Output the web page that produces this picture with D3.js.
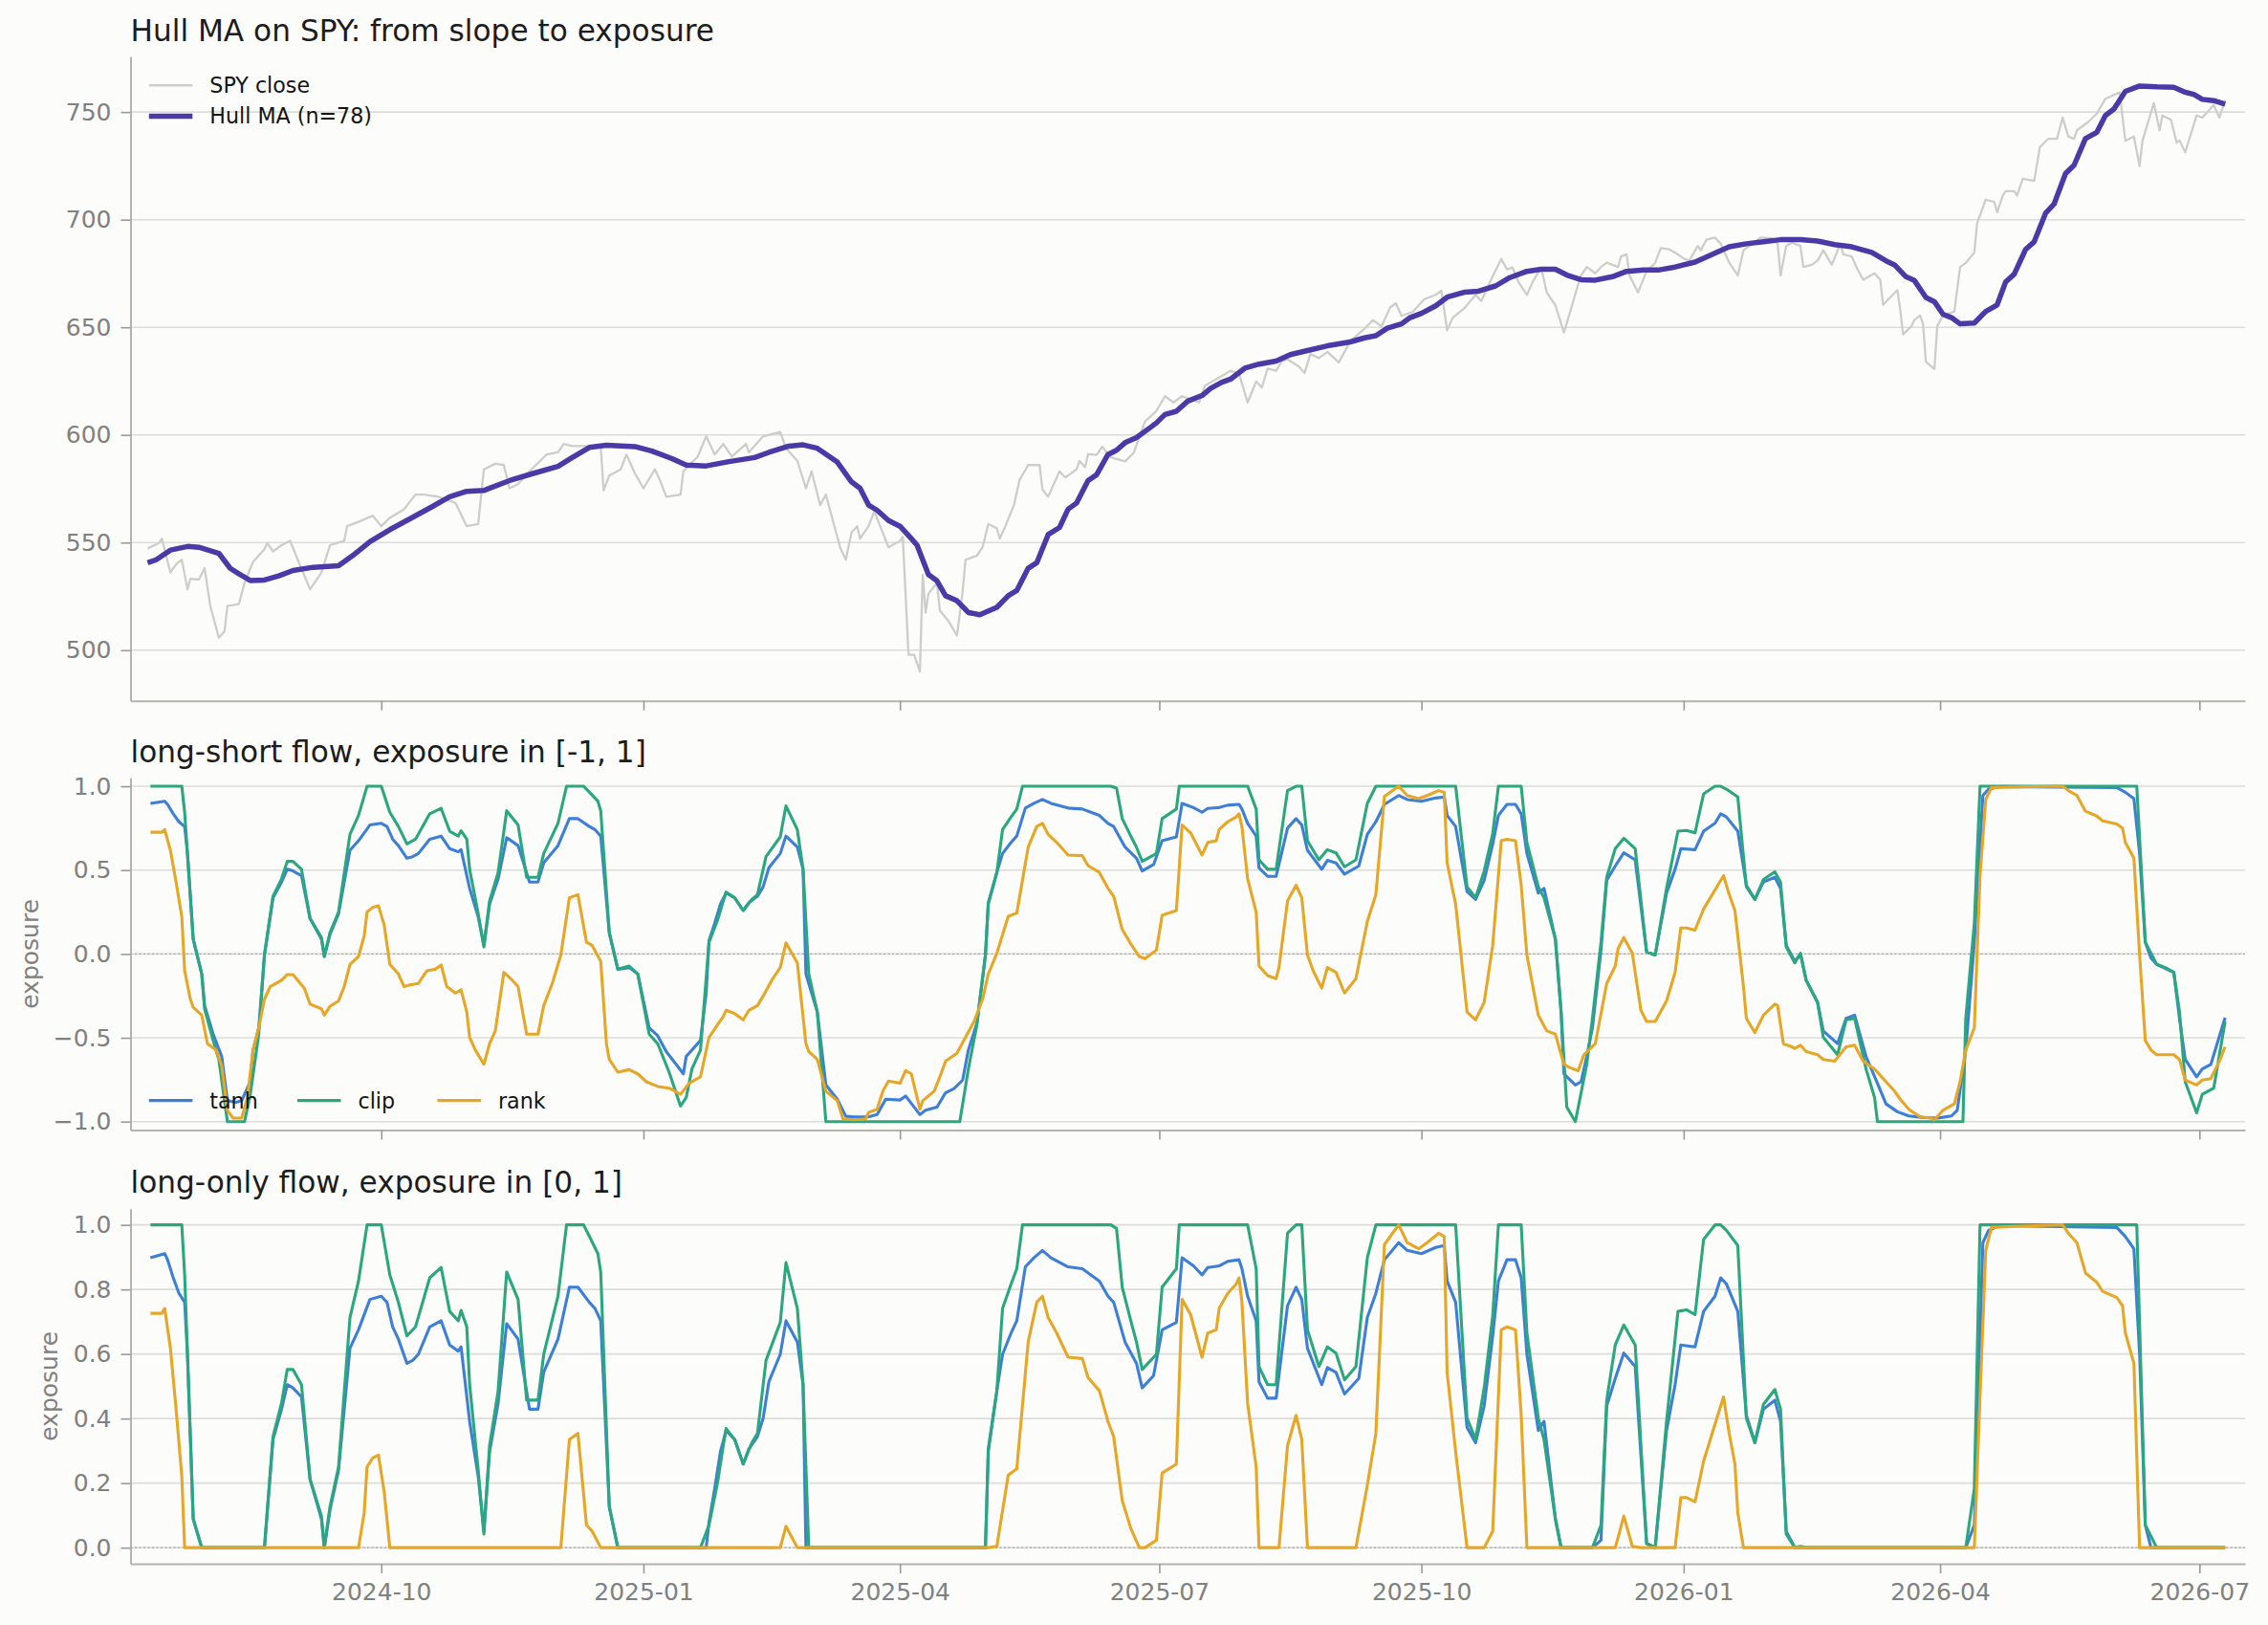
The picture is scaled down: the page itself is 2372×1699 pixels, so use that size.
<!DOCTYPE html>
<html>
<head>
<meta charset="utf-8">
<script src="https://cdn.jsdelivr.net/npm/d3@7"></script>
<style>
  body { margin: 0; background: #fcfcfa; }
  svg text { font-family: "DejaVu Sans", sans-serif; }
</style>
</head>
<body>
<svg id="chart" width="2372" height="1699"></svg>
<script>
// ---- data ----

const dateTicks = ["2024-10-01", "2025-01-01", "2025-04-01", "2025-07-01",
                   "2025-10-01", "2026-01-01", "2026-04-01", "2026-07-01"];
const priceTicks = [500, 550, 600, 650, 700, 750];
const longShortTicks = [-1, -0.5, 0, 0.5, 1];
const longOnlyTicks = [0, 0.2, 0.4, 0.6, 0.8, 1];

const spyClose = [
  ["2024-07-11",547.3],["2024-07-15",549.8],["2024-07-16",551.8],["2024-07-19",536.1],["2024-07-21",540.0],
  ["2024-07-23",542.0],["2024-07-25",528.3],["2024-07-26",533.2],["2024-07-29",532.8],["2024-07-31",538.1],
  ["2024-08-02",520.5],["2024-08-05",505.8],["2024-08-07",508.8],["2024-08-08",520.5],["2024-08-12",521.4],
  ["2024-08-14",531.2],["2024-08-17",541.0],["2024-08-21",546.9],["2024-08-22",549.8],["2024-08-24",545.9],
  ["2024-08-27",548.8],["2024-08-30",550.8],["2024-09-02",541.0],["2024-09-06",528.3],["2024-09-10",536.1],
  ["2024-09-13",548.8],["2024-09-18",550.8],["2024-09-19",557.6],["2024-09-23",559.6],["2024-09-28",562.5],
  ["2024-10-01",557.6],["2024-10-04",561.5],["2024-10-09",565.5],["2024-10-13",572.3],["2024-10-16",572.3],
  ["2024-10-21",571.3],["2024-10-27",568.4],["2024-10-31",557.6],["2024-11-04",558.6],["2024-11-06",584.0],
  ["2024-11-10",586.6],["2024-11-13",586.0],["2024-11-15",575.2],["2024-11-18",577.2],["2024-11-22",583.1],
  ["2024-11-25",587.0],["2024-11-28",590.9],["2024-12-02",591.9],["2024-12-04",595.8],["2024-12-07",594.8],
  ["2024-12-12",594.8],["2024-12-17",594.8],["2024-12-18",574.3],["2024-12-20",581.1],["2024-12-24",584.0],
  ["2024-12-26",590.9],["2024-12-29",582.1],["2025-01-01",575.2],["2025-01-05",584.0],["2025-01-07",578.2],
  ["2025-01-09",571.3],["2025-01-14",572.3],["2025-01-15",583.1],["2025-01-20",589.9],["2025-01-23",599.4],
  ["2025-01-26",590.9],["2025-01-29",595.8],["2025-02-01",589.9],["2025-02-06",595.8],["2025-02-07",591.9],
  ["2025-02-12",599.4],["2025-02-18",601.4],["2025-02-20",593.8],["2025-02-24",588.0],["2025-02-27",575.2],
  ["2025-03-01",583.1],["2025-03-04",567.4],["2025-03-06",572.3],["2025-03-10",552.7],["2025-03-11",547.8],
  ["2025-03-13",542.0],["2025-03-15",554.7],["2025-03-17",557.6],["2025-03-18",551.8],["2025-03-21",557.6],
  ["2025-03-23",564.5],["2025-03-28",547.8],["2025-04-01",550.8],["2025-04-02",552.7],["2025-04-04",497.9],
  ["2025-04-06",497.9],["2025-04-08",490.1],["2025-04-09",535.1],["2025-04-10",517.5],["2025-04-11",526.3],
  ["2025-04-14",531.2],["2025-04-15",518.5],["2025-04-18",513.6],["2025-04-21",506.8],["2025-04-23",527.3],
  ["2025-04-24",542.0],["2025-04-28",543.9],["2025-04-30",547.8],["2025-05-02",558.6],["2025-05-05",556.7],
  ["2025-05-06",551.8],["2025-05-08",557.6],["2025-05-11",567.4],["2025-05-13",579.2],["2025-05-16",586.0],
  ["2025-05-20",586.0],["2025-05-21",574.7],["2025-05-23",571.3],["2025-05-27",583.1],["2025-05-29",580.2],
  ["2025-06-02",584.0],["2025-06-03",587.9],["2025-06-05",585.0],["2025-06-06",591.1],["2025-06-09",590.7],
  ["2025-06-11",594.5],["2025-06-14",589.6],["2025-06-19",587.7],["2025-06-22",591.6],["2025-06-26",606.3],
  ["2025-06-30",611.2],["2025-07-03",618.0],["2025-07-06",615.1],["2025-07-09",618.0],["2025-07-15",615.1],
  ["2025-07-17",622.9],["2025-07-21",625.9],["2025-07-26",629.8],["2025-07-29",628.4],["2025-08-01",615.1],
  ["2025-08-04",624.9],["2025-08-06",622.0],["2025-08-08",630.8],["2025-08-11",629.8],["2025-08-13",634.3],
  ["2025-08-15",635.1],["2025-08-19",631.8],["2025-08-21",628.8],["2025-08-23",637.6],["2025-08-26",635.7],
  ["2025-08-29",638.6],["2025-09-02",633.7],["2025-09-06",643.5],["2025-09-11",649.4],["2025-09-14",653.3],
  ["2025-09-17",650.4],["2025-09-20",659.2],["2025-09-22",661.2],["2025-09-24",655.3],["2025-09-28",657.2],
  ["2025-10-02",663.1],["2025-10-06",665.1],["2025-10-08",667.0],["2025-10-10",648.6],["2025-10-12",654.5],
  ["2025-10-16",658.8],["2025-10-20",665.1],["2025-10-22",662.2],["2025-10-25",671.0],["2025-10-29",681.8],
  ["2025-10-31",676.9],["2025-11-02",677.8],["2025-11-04",671.0],["2025-11-07",665.1],["2025-11-09",671.0],
  ["2025-11-12",677.8],["2025-11-14",666.1],["2025-11-17",660.2],["2025-11-20",647.6],["2025-11-22",656.4],
  ["2025-11-25",670.1],["2025-11-26",674.1],["2025-11-28",678.0],["2025-12-01",675.1],["2025-12-03",678.0],
  ["2025-12-05",680.0],["2025-12-09",678.0],["2025-12-10",682.9],["2025-12-12",683.9],["2025-12-13",674.1],
  ["2025-12-16",666.2],["2025-12-19",676.0],["2025-12-22",680.0],["2025-12-24",686.8],["2025-12-27",686.2],
  ["2025-12-30",683.9],["2026-01-01",681.9],["2026-01-03",681.0],["2026-01-06",687.8],["2026-01-07",685.8],
  ["2026-01-09",690.7],["2026-01-12",691.7],["2026-01-14",688.8],["2026-01-17",680.0],["2026-01-20",674.1],
  ["2026-01-22",685.8],["2026-01-26",689.7],["2026-01-28",691.7],["2026-02-01",691.3],["2026-02-03",688.8],
  ["2026-02-04",674.1],["2026-02-06",687.8],["2026-02-08",689.3],["2026-02-11",687.8],["2026-02-12",678.0],
  ["2026-02-15",679.0],["2026-02-17",681.0],["2026-02-19",685.8],["2026-02-22",679.0],["2026-02-25",688.8],
  ["2026-02-26",683.9],["2026-03-01",682.9],["2026-03-03",677.0],["2026-03-05",672.1],["2026-03-09",675.1],
  ["2026-03-11",672.1],["2026-03-12",660.4],["2026-03-14",663.3],["2026-03-17",667.2],["2026-03-18",658.4],
  ["2026-03-19",646.7],["2026-03-22",650.6],["2026-03-23",653.5],["2026-03-25",655.5],["2026-03-26",651.6],
  ["2026-03-27",634.0],["2026-03-30",630.6],["2026-03-31",650.6],["2026-04-02",655.5],["2026-04-06",657.4],
  ["2026-04-08",678.0],["2026-04-10",679.9],["2026-04-13",684.8],["2026-04-14",698.5],["2026-04-17",709.3],
  ["2026-04-20",708.3],["2026-04-21",703.4],["2026-04-23",711.2],["2026-04-24",713.2],["2026-04-27",713.2],
  ["2026-04-28",711.2],["2026-04-30",719.0],["2026-05-04",718.0],["2026-05-06",733.7],["2026-05-09",737.6],
  ["2026-05-12",737.6],["2026-05-14",747.4],["2026-05-16",738.6],["2026-05-18",737.6],["2026-05-19",741.5],
  ["2026-05-23",745.4],["2026-05-26",749.3],["2026-05-29",756.2],["2026-06-03",759.1],["2026-06-05",736.6],
  ["2026-06-08",738.6],["2026-06-10",724.9],["2026-06-11",736.6],["2026-06-15",754.2],["2026-06-17",741.5],
  ["2026-06-18",748.4],["2026-06-21",746.4],["2026-06-23",735.8],["2026-06-24",736.8],["2026-06-26",731.3],
  ["2026-06-30",748.4],["2026-07-02",747.4],["2026-07-06",753.3],["2026-07-08",747.4],["2026-07-10",755.3]
];

const hullMA = [
  ["2024-07-11",540.6],["2024-07-14",542.0],["2024-07-19",546.5],["2024-07-25",548.2],["2024-07-29",547.8],
  ["2024-08-05",545.0],["2024-08-09",538.0],["2024-08-12",535.5],["2024-08-16",532.4],["2024-08-21",532.6],
  ["2024-08-26",534.5],["2024-08-31",537.0],["2024-09-07",538.5],["2024-09-16",539.2],["2024-09-21",544.0],
  ["2024-09-27",550.4],["2024-10-04",556.0],["2024-10-11",561.0],["2024-10-19",566.8],["2024-10-25",571.3],
  ["2024-10-31",573.8],["2024-11-06",574.2],["2024-11-15",578.8],["2024-11-23",582.0],["2024-12-02",585.4],
  ["2024-12-07",589.5],["2024-12-13",594.2],["2024-12-19",595.2],["2024-12-29",594.6],["2025-01-04",592.5],
  ["2025-01-11",589.0],["2025-01-16",586.0],["2025-01-23",585.6],["2025-01-31",587.6],["2025-02-09",589.5],
  ["2025-02-14",591.9],["2025-02-21",594.8],["2025-02-26",595.4],["2025-03-03",593.8],["2025-03-10",587.4],
  ["2025-03-15",578.2],["2025-03-18",575.2],["2025-03-21",567.4],["2025-03-24",565.0],["2025-03-28",560.2],
  ["2025-04-01",557.6],["2025-04-05",551.8],["2025-04-07",548.8],["2025-04-11",535.1],["2025-04-14",532.2],
  ["2025-04-17",525.3],["2025-04-21",523.0],["2025-04-25",517.5],["2025-04-29",516.5],["2025-05-05",519.9],
  ["2025-05-09",525.3],["2025-05-12",527.7],["2025-05-16",538.1],["2025-05-19",540.6],["2025-05-23",553.7],
  ["2025-05-27",557.0],["2025-05-30",565.5],["2025-06-02",568.4],["2025-06-06",578.8],["2025-06-09",581.5],
  ["2025-06-13",590.9],["2025-06-16",592.9],["2025-06-19",596.4],["2025-06-23",598.8],["2025-06-28",603.6],
  ["2025-06-30",605.6],["2025-07-03",609.5],["2025-07-07",611.0],["2025-07-11",615.7],["2025-07-16",618.3],
  ["2025-07-19",621.6],["2025-07-23",624.5],["2025-07-26",625.9],["2025-07-31",631.0],["2025-08-05",632.9],
  ["2025-08-11",634.3],["2025-08-16",637.3],["2025-08-22",639.2],["2025-08-29",641.4],["2025-09-06",643.2],
  ["2025-09-11",645.1],["2025-09-15",646.1],["2025-09-19",649.6],["2025-09-24",651.6],["2025-09-27",654.5],
  ["2025-10-01",656.5],["2025-10-06",660.0],["2025-10-10",664.0],["2025-10-16",666.3],["2025-10-21",666.8],
  ["2025-10-27",669.2],["2025-11-01",673.1],["2025-11-07",676.0],["2025-11-12",677.0],["2025-11-17",677.0],
  ["2025-11-21",674.3],["2025-11-26",672.1],["2025-12-01",671.9],["2025-12-07",673.5],["2025-12-12",676.0],
  ["2025-12-18",676.6],["2025-12-23",676.6],["2025-12-29",678.0],["2026-01-05",680.3],["2026-01-11",683.9],
  ["2026-01-17",687.4],["2026-01-23",688.8],["2026-01-29",689.7],["2026-02-04",690.7],["2026-02-11",690.7],
  ["2026-02-17",690.1],["2026-02-23",688.4],["2026-03-01",687.4],["2026-03-08",684.8],["2026-03-13",680.9],
  ["2026-03-16",679.0],["2026-03-20",673.5],["2026-03-23",671.7],["2026-03-27",663.9],["2026-03-30",661.9],
  ["2026-04-02",656.1],["2026-04-05",654.5],["2026-04-08",651.6],["2026-04-13",652.0],["2026-04-17",657.4],
  ["2026-04-21",660.4],["2026-04-24",671.1],["2026-04-27",674.7],["2026-05-01",686.2],["2026-05-04",689.7],
  ["2026-05-08",703.0],["2026-05-11",707.3],["2026-05-15",721.4],["2026-05-18",725.3],["2026-05-22",737.7],
  ["2026-05-26",740.6],["2026-05-29",748.4],["2026-06-01",751.4],["2026-06-05",759.6],["2026-06-10",762.1],
  ["2026-06-16",761.7],["2026-06-22",761.5],["2026-06-26",759.2],["2026-06-29",758.2],["2026-07-02",755.9],
  ["2026-07-06",755.3],["2026-07-10",753.7]
];

// long-short exposures; the long-only panel is the same series floored at 0
const tanhExposure = [
  ["2024-07-12",0.898],["2024-07-17",0.911],["2024-07-18",0.892],["2024-07-20",0.836],["2024-07-22",0.788],
  ["2024-07-24",0.760],["2024-07-25",0.599],["2024-07-27",0.089],["2024-07-30",-0.119],["2024-07-31",-0.308],
  ["2024-08-03",-0.478],["2024-08-06",-0.611],["2024-08-08",-0.875],["2024-08-11",-0.885],["2024-08-13",-0.875],
  ["2024-08-16",-0.762],["2024-08-17",-0.573],["2024-08-19",-0.440],["2024-08-21",-0.006],["2024-08-24",0.335],
  ["2024-08-27",0.429],["2024-08-29",0.505],["2024-08-31",0.495],["2024-09-03",0.467],["2024-09-06",0.212],
  ["2024-09-10",0.089],["2024-09-11",-0.015],["2024-09-13",0.117],["2024-09-16",0.240],["2024-09-20",0.618],
  ["2024-09-23",0.675],["2024-09-27",0.769],["2024-10-01",0.779],["2024-10-03",0.760],["2024-10-05",0.684],
  ["2024-10-07",0.646],["2024-10-10",0.571],["2024-10-12",0.580],["2024-10-14",0.599],["2024-10-18",0.684],
  ["2024-10-22",0.703],["2024-10-25",0.628],["2024-10-28",0.609],["2024-10-29",0.622],["2024-11-01",0.391],
  ["2024-11-04",0.221],["2024-11-06",0.051],["2024-11-08",0.297],["2024-11-11",0.448],["2024-11-14",0.694],
  ["2024-11-18",0.646],["2024-11-22",0.429],["2024-11-25",0.429],["2024-11-27",0.544],["2024-12-02",0.646],
  ["2024-12-06",0.807],["2024-12-09",0.807],["2024-12-13",0.760],["2024-12-15",0.741],["2024-12-17",0.703],
  ["2024-12-20",0.127],["2024-12-23",-0.091],["2024-12-27",-0.081],["2024-12-30",-0.119],["2025-01-03",-0.440],
  ["2025-01-06",-0.488],["2025-01-09",-0.582],["2025-01-12",-0.648],["2025-01-15",-0.715],["2025-01-16",-0.611],
  ["2025-01-21",-0.516],["2025-01-23",-0.233],["2025-01-24",0.079],["2025-01-26",0.183],["2025-01-28",0.297],
  ["2025-01-30",0.363],["2025-02-02",0.335],["2025-02-05",0.259],["2025-02-07",0.306],["2025-02-10",0.344],
  ["2025-02-12",0.401],["2025-02-14",0.514],["2025-02-18",0.599],["2025-02-20",0.703],["2025-02-24",0.637],
  ["2025-02-26",0.505],["2025-02-27",-0.119],["2025-03-03",-0.346],["2025-03-06",-0.781],["2025-03-10",-0.866],
  ["2025-03-13",-0.968],["2025-03-16",-0.972],["2025-03-21",-0.972],["2025-03-24",-0.958],["2025-03-27",-0.866],
  ["2025-04-01",-0.871],["2025-04-03",-0.847],["2025-04-08",-0.958],["2025-04-10",-0.932],["2025-04-14",-0.913],
  ["2025-04-17",-0.828],["2025-04-20",-0.803],["2025-04-23",-0.752],["2025-04-25",-0.573],["2025-04-28",-0.412],
  ["2025-05-01",-0.006],["2025-05-02",0.306],["2025-05-05",0.486],["2025-05-07",0.599],["2025-05-10",0.665],
  ["2025-05-12",0.703],["2025-05-15",0.870],["2025-05-18",0.898],["2025-05-21",0.921],["2025-05-24",0.898],
  ["2025-05-30",0.870],["2025-06-04",0.864],["2025-06-07",0.845],["2025-06-10",0.826],["2025-06-13",0.779],
  ["2025-06-15",0.760],["2025-06-19",0.637],["2025-06-23",0.571],["2025-06-25",0.495],["2025-06-29",0.533],
  ["2025-07-02",0.675],["2025-07-07",0.698],["2025-07-09",0.898],["2025-07-13",0.873],["2025-07-16",0.845],
  ["2025-07-18",0.868],["2025-07-22",0.873],["2025-07-25",0.887],["2025-07-29",0.892],["2025-07-30",0.864],
  ["2025-08-01",0.779],["2025-08-04",0.703],["2025-08-05",0.514],["2025-08-08",0.463],["2025-08-11",0.463],
  ["2025-08-15",0.750],["2025-08-18",0.807],["2025-08-20",0.769],["2025-08-22",0.618],["2025-08-27",0.505],
  ["2025-08-29",0.558],["2025-09-01",0.543],["2025-09-04",0.476],["2025-09-09",0.524],["2025-09-12",0.713],
  ["2025-09-15",0.788],["2025-09-18",0.892],["2025-09-23",0.945],["2025-09-26",0.921],["2025-10-01",0.911],
  ["2025-10-06",0.930],["2025-10-09",0.936],["2025-10-10",0.826],["2025-10-13",0.760],["2025-10-17",0.372],
  ["2025-10-20",0.325],["2025-10-23",0.439],["2025-10-26",0.656],["2025-10-28",0.826],["2025-10-31",0.892],
  ["2025-11-03",0.892],["2025-11-05",0.836],["2025-11-07",0.599],["2025-11-11",0.363],["2025-11-13",0.391],
  ["2025-11-17",0.089],["2025-11-19",-0.346],["2025-11-20",-0.715],["2025-11-24",-0.781],["2025-11-26",-0.762],
  ["2025-11-28",-0.611],["2025-11-30",-0.440],["2025-12-03",0.023],["2025-12-05",0.439],["2025-12-08",0.524],
  ["2025-12-11",0.603],["2025-12-15",0.561],["2025-12-19",0.013],["2025-12-22",-0.006],["2025-12-26",0.363],
  ["2025-12-29",0.505],["2025-12-31",0.628],["2026-01-05",0.622],["2026-01-08",0.732],["2026-01-12",0.779],
  ["2026-01-14",0.836],["2026-01-16",0.817],["2026-01-20",0.732],["2026-01-23",0.410],["2026-01-26",0.325],
  ["2026-01-29",0.429],["2026-02-02",0.457],["2026-02-04",0.391],["2026-02-06",0.051],["2026-02-09",-0.043],
  ["2026-02-11",-0.002],["2026-02-13",-0.157],["2026-02-17",-0.289],["2026-02-19",-0.459],["2026-02-24",-0.535],
  ["2026-02-27",-0.384],["2026-03-02",-0.365],["2026-03-06",-0.611],["2026-03-10",-0.771],["2026-03-13",-0.894],
  ["2026-03-17",-0.941],["2026-03-21",-0.966],["2026-03-26",-0.975],["2026-03-31",-0.979],["2026-04-05",-0.966],
  ["2026-04-07",-0.932],["2026-04-10",-0.573],["2026-04-13",0.070],["2026-04-16",0.945],["2026-04-18",0.983],
  ["2026-04-22",0.998],["2026-06-02",0.992],["2026-06-05",0.964],["2026-06-08",0.926],["2026-06-10",0.599],
  ["2026-06-12",0.070],["2026-06-14",-0.025],["2026-06-16",-0.062],["2026-06-22",-0.110],["2026-06-24",-0.384],
  ["2026-06-26",-0.629],["2026-06-30",-0.733],["2026-07-02",-0.686],["2026-07-05",-0.658],["2026-07-10",-0.380]
];

const clipExposure = [
  ["2024-07-12",1.0],["2024-07-23",1.0],["2024-07-24",0.845],["2024-07-27",0.089],["2024-07-30",-0.119],
  ["2024-07-31",-0.327],["2024-08-03",-0.516],["2024-08-05",-0.629],["2024-08-08",-1.0],["2024-08-14",-1.0],
  ["2024-08-16",-0.841],["2024-08-19",-0.478],["2024-08-21",-0.006],["2024-08-24",0.344],["2024-08-27",0.448],
  ["2024-08-29",0.552],["2024-08-31",0.552],["2024-09-03",0.505],["2024-09-06",0.212],["2024-09-10",0.098],
  ["2024-09-11",-0.015],["2024-09-13",0.127],["2024-09-16",0.250],["2024-09-20",0.713],["2024-09-23",0.826],
  ["2024-09-26",1.0],["2024-10-01",1.0],["2024-10-04",0.845],["2024-10-07",0.760],["2024-10-10",0.656],
  ["2024-10-13",0.684],["2024-10-18",0.836],["2024-10-22",0.868],["2024-10-25",0.732],["2024-10-28",0.703],
  ["2024-10-29",0.735],["2024-10-31",0.684],["2024-11-01",0.505],["2024-11-04",0.240],["2024-11-06",0.042],
  ["2024-11-08",0.316],["2024-11-11",0.486],["2024-11-14",0.854],["2024-11-18",0.769],["2024-11-21",0.457],
  ["2024-11-25",0.457],["2024-11-27",0.599],["2024-12-02",0.779],["2024-12-05",1.0],["2024-12-11",1.0],
  ["2024-12-13",0.965],["2024-12-16",0.911],["2024-12-17",0.854],["2024-12-20",0.127],["2024-12-23",-0.091],
  ["2024-12-27",-0.072],["2024-12-30",-0.119],["2025-01-03",-0.478],["2025-01-06",-0.535],["2025-01-10",-0.705],
  ["2025-01-14",-0.907],["2025-01-16",-0.856],["2025-01-18",-0.686],["2025-01-21",-0.573],["2025-01-24",0.070],
  ["2025-01-27",0.202],["2025-01-29",0.316],["2025-01-30",0.369],["2025-02-02",0.335],["2025-02-05",0.259],
  ["2025-02-08",0.325],["2025-02-10",0.354],["2025-02-13",0.580],["2025-02-18",0.698],["2025-02-20",0.883],
  ["2025-02-24",0.741],["2025-02-26",0.505],["2025-02-28",-0.119],["2025-03-03",-0.346],["2025-03-06",-1.0],
  ["2025-04-22",-1.0],["2025-04-25",-0.686],["2025-04-28",-0.422],["2025-05-01",-0.006],["2025-05-02",0.297],
  ["2025-05-05",0.486],["2025-05-07",0.741],["2025-05-10",0.817],["2025-05-12",0.864],["2025-05-14",1.0],
  ["2025-06-14",1.0],["2025-06-16",0.989],["2025-06-18",0.807],["2025-06-21",0.703],["2025-06-23",0.637],
  ["2025-06-25",0.552],["2025-06-30",0.599],["2025-07-02",0.807],["2025-07-07",0.864],["2025-07-08",1.0],
  ["2025-08-01",1.0],["2025-08-04",0.864],["2025-08-05",0.561],["2025-08-08",0.505],["2025-08-11",0.505],
  ["2025-08-15",0.974],["2025-08-18",1.0],["2025-08-20",1.0],["2025-08-22",0.675],["2025-08-26",0.561],
  ["2025-08-29",0.622],["2025-09-01",0.603],["2025-09-04",0.520],["2025-09-08",0.561],["2025-09-12",0.898],
  ["2025-09-15",1.0],["2025-10-13",1.0],["2025-10-17",0.401],["2025-10-20",0.335],["2025-10-23",0.495],
  ["2025-10-26",0.718],["2025-10-28",1.0],["2025-11-05",1.0],["2025-11-07",0.665],["2025-11-11",0.401],
  ["2025-11-13",0.335],["2025-11-17",0.089],["2025-11-19",-0.346],["2025-11-21",-0.913],["2025-11-24",-1.0],
  ["2025-11-28",-0.658],["2025-11-30",-0.384],["2025-12-03",0.070],["2025-12-05",0.457],["2025-12-08",0.628],
  ["2025-12-11",0.690],["2025-12-15",0.628],["2025-12-19",0.013],["2025-12-22",-0.006],["2025-12-26",0.391],
  ["2025-12-30",0.732],["2026-01-02",0.737],["2026-01-05",0.722],["2026-01-08",0.955],["2026-01-12",1.0],
  ["2026-01-14",1.0],["2026-01-16",0.983],["2026-01-20",0.936],["2026-01-23",0.401],["2026-01-26",0.325],
  ["2026-01-29",0.444],["2026-02-02",0.490],["2026-02-04",0.429],["2026-02-06",0.042],["2026-02-09",-0.053],
  ["2026-02-11",0.004],["2026-02-13",-0.157],["2026-02-17",-0.289],["2026-02-19",-0.497],["2026-02-24",-0.601],
  ["2026-02-27",-0.393],["2026-03-02",-0.384],["2026-03-06",-0.686],["2026-03-09",-0.856],["2026-03-10",-1.0],
  ["2026-04-09",-1.0],["2026-04-10",-0.384],["2026-04-13",0.183],["2026-04-15",1.0],["2026-06-09",1.0],
  ["2026-06-12",0.070],["2026-06-16",-0.062],["2026-06-19",-0.081],["2026-06-22",-0.110],["2026-06-24",-0.346],
  ["2026-06-26",-0.762],["2026-06-30",-0.947],["2026-07-02",-0.837],["2026-07-06",-0.800],["2026-07-10",-0.403]
];

const rankExposure = [
  ["2024-07-12",0.726],["2024-07-16",0.726],["2024-07-17",0.741],["2024-07-19",0.618],["2024-07-21",0.429],
  ["2024-07-23",0.221],["2024-07-24",-0.100],["2024-07-26",-0.270],["2024-07-27",-0.318],["2024-07-30",-0.365],
  ["2024-08-01",-0.535],["2024-08-04",-0.573],["2024-08-06",-0.667],["2024-08-08",-0.932],["2024-08-10",-0.979],
  ["2024-08-13",-0.979],["2024-08-15",-0.856],["2024-08-17",-0.573],["2024-08-19",-0.440],["2024-08-21",-0.270],
  ["2024-08-23",-0.195],["2024-08-27",-0.157],["2024-08-29",-0.123],["2024-08-31",-0.123],["2024-09-04",-0.204],
  ["2024-09-06",-0.299],["2024-09-10",-0.327],["2024-09-11",-0.365],["2024-09-13",-0.312],["2024-09-16",-0.280],
  ["2024-09-18",-0.195],["2024-09-20",-0.062],["2024-09-23",-0.015],["2024-09-25",0.108],["2024-09-26",0.250],
  ["2024-09-28",0.278],["2024-09-30",0.287],["2024-10-02",0.174],["2024-10-04",-0.062],["2024-10-07",-0.119],
  ["2024-10-09",-0.195],["2024-10-11",-0.185],["2024-10-14",-0.176],["2024-10-17",-0.100],["2024-10-20",-0.091],
  ["2024-10-22",-0.066],["2024-10-24",-0.195],["2024-10-27",-0.233],["2024-10-29",-0.214],["2024-10-31",-0.346],
  ["2024-11-01",-0.497],["2024-11-03",-0.573],["2024-11-06",-0.658],["2024-11-08",-0.535],["2024-11-10",-0.459],
  ["2024-11-13",-0.110],["2024-11-16",-0.157],["2024-11-18",-0.195],["2024-11-21",-0.478],["2024-11-25",-0.478],
  ["2024-11-27",-0.308],["2024-11-30",-0.176],["2024-12-03",-0.006],["2024-12-06",0.335],["2024-12-09",0.354],
  ["2024-12-12",0.070],["2024-12-14",0.051],["2024-12-17",-0.043],["2024-12-19",-0.535],["2024-12-20",-0.629],
  ["2024-12-23",-0.705],["2024-12-27",-0.690],["2024-12-30",-0.715],["2025-01-02",-0.762],["2025-01-06",-0.790],
  ["2025-01-10",-0.800],["2025-01-14",-0.837],["2025-01-17",-0.771],["2025-01-21",-0.733],["2025-01-24",-0.497],
  ["2025-01-27",-0.422],["2025-01-29",-0.374],["2025-01-30",-0.336],["2025-02-02",-0.355],["2025-02-05",-0.393],
  ["2025-02-07",-0.336],["2025-02-10",-0.308],["2025-02-12",-0.251],["2025-02-15",-0.157],["2025-02-18",-0.081],
  ["2025-02-20",0.066],["2025-02-24",-0.053],["2025-02-27",-0.535],["2025-02-28",-0.582],["2025-03-03",-0.629],
  ["2025-03-06",-0.818],["2025-03-10",-0.875],["2025-03-12",-0.983],["2025-03-16",-0.989],["2025-03-20",-0.983],
  ["2025-03-21",-0.945],["2025-03-24",-0.926],["2025-03-26",-0.818],["2025-03-28",-0.758],["2025-04-01",-0.771],
  ["2025-04-03",-0.696],["2025-04-05",-0.715],["2025-04-08",-0.926],["2025-04-09",-0.875],["2025-04-13",-0.818],
  ["2025-04-15",-0.733],["2025-04-17",-0.639],["2025-04-21",-0.592],["2025-04-24",-0.497],["2025-04-27",-0.403],
  ["2025-04-30",-0.270],["2025-05-02",-0.119],["2025-05-05",0.004],["2025-05-09",0.225],["2025-05-12",0.244],
  ["2025-05-16",0.637],["2025-05-19",0.760],["2025-05-21",0.779],["2025-05-23",0.713],["2025-05-26",0.665],
  ["2025-05-30",0.590],["2025-06-04",0.586],["2025-06-06",0.527],["2025-06-10",0.486],["2025-06-13",0.391],
  ["2025-06-15",0.344],["2025-06-18",0.146],["2025-06-21",0.060],["2025-06-24",-0.015],["2025-06-26",-0.028],
  ["2025-06-30",0.023],["2025-07-02",0.231],["2025-07-07",0.259],["2025-07-09",0.769],["2025-07-12",0.722],
  ["2025-07-14",0.656],["2025-07-16",0.590],["2025-07-18",0.665],["2025-07-21",0.675],["2025-07-22",0.741],
  ["2025-07-25",0.788],["2025-07-28",0.817],["2025-07-29",0.836],["2025-07-30",0.760],["2025-08-01",0.448],
  ["2025-08-04",0.250],["2025-08-05",-0.072],["2025-08-08",-0.129],["2025-08-11",-0.147],["2025-08-12",-0.081],
  ["2025-08-15",0.316],["2025-08-18",0.410],["2025-08-20",0.335],["2025-08-22",-0.006],["2025-08-24",-0.100],
  ["2025-08-27",-0.204],["2025-08-29",-0.081],["2025-09-01",-0.110],["2025-09-04",-0.233],["2025-09-08",-0.147],
  ["2025-09-12",0.193],["2025-09-15",0.354],["2025-09-18",0.939],["2025-09-23",1.0],["2025-09-26",0.945],
  ["2025-09-30",0.926],["2025-10-03",0.945],["2025-10-07",0.974],["2025-10-09",0.964],["2025-10-10",0.544],
  ["2025-10-13",0.297],["2025-10-17",-0.346],["2025-10-20",-0.393],["2025-10-23",-0.289],["2025-10-26",0.051],
  ["2025-10-29",0.675],["2025-10-31",0.684],["2025-11-03",0.675],["2025-11-05",0.410],["2025-11-07",-0.006],
  ["2025-11-11",-0.365],["2025-11-14",-0.459],["2025-11-17",-0.478],["2025-11-20",-0.658],["2025-11-22",-0.677],
  ["2025-11-25",-0.696],["2025-11-27",-0.601],["2025-12-01",-0.535],["2025-12-05",-0.176],["2025-12-08",-0.072],
  ["2025-12-09",0.032],["2025-12-11",0.098],["2025-12-14",0.004],["2025-12-17",-0.336],["2025-12-19",-0.403],
  ["2025-12-22",-0.403],["2025-12-26",-0.280],["2025-12-29",-0.110],["2025-12-31",0.155],["2026-01-02",0.155],
  ["2026-01-05",0.142],["2026-01-08",0.268],["2026-01-12",0.382],["2026-01-15",0.467],["2026-01-17",0.354],
  ["2026-01-19",0.259],["2026-01-20",0.108],["2026-01-22",-0.195],["2026-01-23",-0.384],["2026-01-26",-0.469],
  ["2026-01-29",-0.365],["2026-02-02",-0.299],["2026-02-03",-0.308],["2026-02-05",-0.535],["2026-02-08",-0.554],
  ["2026-02-09",-0.563],["2026-02-11",-0.544],["2026-02-13",-0.582],["2026-02-17",-0.601],["2026-02-19",-0.629],
  ["2026-02-23",-0.639],["2026-02-27",-0.554],["2026-03-02",-0.544],["2026-03-05",-0.639],["2026-03-09",-0.686],
  ["2026-03-13",-0.762],["2026-03-16",-0.818],["2026-03-18",-0.866],["2026-03-21",-0.926],["2026-03-25",-0.972],
  ["2026-03-29",-0.979],["2026-03-30",-0.989],["2026-04-02",-0.932],["2026-04-06",-0.894],["2026-04-08",-0.762],
  ["2026-04-10",-0.573],["2026-04-13",-0.440],["2026-04-15",0.467],["2026-04-17",0.921],["2026-04-19",0.992],
  ["2026-04-29",0.996],["2026-05-14",1.0],["2026-05-16",0.974],["2026-05-19",0.945],["2026-05-22",0.851],
  ["2026-05-26",0.822],["2026-05-28",0.794],["2026-06-02",0.775],["2026-06-04",0.750],["2026-06-05",0.665],
  ["2026-06-08",0.571],["2026-06-10",-0.006],["2026-06-12",-0.516],["2026-06-14",-0.573],["2026-06-16",-0.601],
  ["2026-06-22",-0.601],["2026-06-24",-0.629],["2026-06-26",-0.752],["2026-06-30",-0.781],["2026-07-02",-0.752],
  ["2026-07-05",-0.743],["2026-07-08",-0.639],["2026-07-10",-0.554]
];

// ---- drawing ----

const parseDate = d3.timeParse("%Y-%m-%d");
const toPoints = arr => arr.map(([d, v]) => ({ date: parseDate(d), v: v }));

const svg = d3.select("#chart");
svg.append("rect").attr("width", 2372).attr("height", 1699).attr("fill", "#fcfcfa");

const x = d3.scaleTime()
    .domain([parseDate("2024-07-05"), parseDate("2026-07-17")])
    .range([136.5, 2348]);

const gridColor = "#dcdcd8";
const spineColor = "#b4b4ae";
const labelColor = "#808080";

function drawPanel(p) {
    const y = d3.scaleLinear().domain(p.domain).range([p.bottom, p.top]);
    const g = svg.append("g");

    g.selectAll("line.grid").data(p.ticks).join("line")
        .attr("class", "grid")
        .attr("x1", x.range()[0]).attr("x2", x.range()[1])
        .attr("y1", d => y(d)).attr("y2", d => y(d))
        .attr("stroke", gridColor).attr("stroke-width", 1.6);

    if (p.zeroLine) {
        g.append("line")
            .attr("x1", x.range()[0]).attr("x2", x.range()[1])
            .attr("y1", y(0)).attr("y2", y(0))
            .attr("stroke", "#a8a8a8").attr("stroke-width", 1.3)
            .attr("stroke-dasharray", "2,2.5");
    }

    const yAxis = g.append("g")
        .attr("transform", "translate(" + x.range()[0] + ",0)")
        .call(d3.axisLeft(y).tickValues(p.ticks).tickFormat(p.format)
            .tickSize(10).tickPadding(10).tickSizeOuter(0));

    const xAxis = g.append("g")
        .attr("transform", "translate(0," + p.bottom + ")")
        .call(d3.axisBottom(x).tickValues(dateTicks.map(parseDate))
            .tickFormat(p.dateLabels ? d3.timeFormat("%Y-%m") : () => "")
            .tickSize(10).tickPadding(10.5).tickSizeOuter(0));

    [yAxis, xAxis].forEach(a => {
        a.select(".domain").attr("stroke", spineColor).attr("stroke-width", 2);
        a.selectAll(".tick line").attr("stroke", "#9a9a9a").attr("stroke-width", 1.6);
        a.selectAll(".tick text").attr("fill", labelColor)
            .style("font-size", "25px").style("font-family", "DejaVu Sans");
    });

    g.append("text")
        .attr("x", x.range()[0]).attr("y", p.top - 16.7)
        .attr("fill", "#1c1c1c")
        .style("font-size", "31.2px")
        .text(p.title);

    if (p.yLabel) {
        g.append("text")
            .attr("transform", "translate(" + p.yLabelX + "," + (p.top + p.bottom) / 2 + ") rotate(-90)")
            .attr("text-anchor", "middle")
            .attr("fill", labelColor)
            .style("font-size", "25px")
            .text(p.yLabel);
    }
    return { g: g, y: y };
}

function drawLine(panel, points, color, width) {
    const line = d3.line().x(d => x(d.date)).y(d => panel.y(d.v));
    panel.g.append("path")
        .datum(points)
        .attr("d", line)
        .attr("fill", "none")
        .attr("stroke", color)
        .attr("stroke-width", width)
        .attr("stroke-linejoin", "round");
}

function drawLegend(g, items, textSize) {
    items.forEach(it => {
        g.append("line")
            .attr("x1", it.x).attr("x2", it.x + 45.5)
            .attr("y1", it.y).attr("y2", it.y)
            .attr("stroke", it.color).attr("stroke-width", it.width);
        g.append("text")
            .attr("x", it.x + 63.5).attr("y", it.y)
            .attr("dy", "0.36em")
            .attr("fill", "#141414")
            .style("font-size", textSize)
            .text(it.label);
    });
}

const colors = { close: "#cdcdca", hull: "#4a3aa8", tanh: "#3d7fd6", clip: "#2ba77f", rank: "#e6a626" };

// top: price and Hull MA
const pricePanel = drawPanel({
    top: 59.3, bottom: 732.7, domain: [476.5, 775.7], ticks: priceTicks,
    format: d3.format("d"), title: "Hull MA on SPY: from slope to exposure"
});
drawLine(pricePanel, toPoints(spyClose), colors.close, 2.3);
drawLine(pricePanel, toPoints(hullMA), colors.hull, 5.5);
drawLegend(pricePanel.g, [
    { x: 155.8, y: 89.3, color: colors.close, width: 2.6, label: "SPY close" },
    { x: 155.8, y: 121.5, color: colors.hull, width: 5.5, label: "Hull MA (n=78)" }
], "22.2px");

const flows = [
    { name: "tanh", data: tanhExposure, color: colors.tanh },
    { name: "clip", data: clipExposure, color: colors.clip },
    { name: "rank", data: rankExposure, color: colors.rank }
];

// middle: long-short
const longShortPanel = drawPanel({
    top: 813.3, bottom: 1181.5, domain: [-1.05, 1.05], ticks: longShortTicks,
    format: d3.format(".1f"), title: "long-short flow, exposure in [-1, 1]",
    yLabel: "exposure", yLabelX: 39.5, zeroLine: true
});
flows.forEach(f => drawLine(longShortPanel, toPoints(f.data), f.color, 3.1));
drawLegend(longShortPanel.g, [
    { x: 155.8, y: 1150.6, color: colors.tanh, width: 3.1, label: "tanh" },
    { x: 311, y: 1150.6, color: colors.clip, width: 3.1, label: "clip" },
    { x: 457.5, y: 1150.6, color: colors.rank, width: 3.1, label: "rank" }
], "22.2px");

// bottom: long-only (same signals floored at zero)
const longOnlyPanel = drawPanel({
    top: 1263.8, bottom: 1635, domain: [-0.05, 1.05], ticks: longOnlyTicks,
    format: d3.format(".1f"), title: "long-only flow, exposure in [0, 1]",
    yLabel: "exposure", yLabelX: 60, zeroLine: true, dateLabels: true
});
flows.forEach(f => drawLine(longOnlyPanel,
    toPoints(f.data).map(d => ({ date: d.date, v: Math.max(0, d.v) })), f.color, 3.1));
</script>
</body>
</html>
